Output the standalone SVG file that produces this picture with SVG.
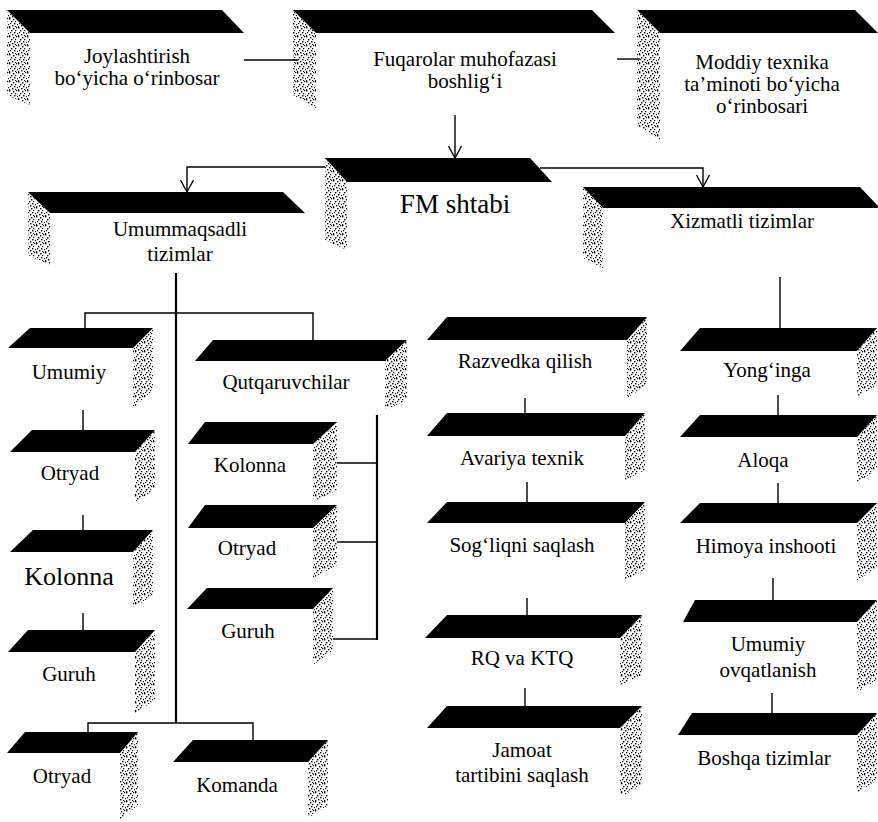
<svg xmlns="http://www.w3.org/2000/svg" width="878" height="822" viewBox="0 0 878 822">
<defs>
<pattern id="stip" width="9" height="9" patternUnits="userSpaceOnUse">
<rect x="0" y="0" width="1.4" height="1.4"/><rect x="4" y="1" width="1.4" height="1.4"/><rect x="7" y="0" width="1.2" height="1.2"/>
<rect x="2" y="3" width="1.4" height="1.4"/><rect x="6" y="3" width="1.2" height="1.2"/><rect x="1" y="5" width="1.2" height="1.2"/>
<rect x="5" y="5" width="1.4" height="1.4"/><rect x="8" y="6" width="1" height="1.2"/><rect x="3" y="7" width="1.4" height="1.4"/>
<rect x="6" y="8" width="1.2" height="1"/><rect x="0" y="8" width="1.2" height="1"/>
</pattern>
<marker id="arr" viewBox="0 0 12 14" refX="12" refY="7" markerWidth="12" markerHeight="14" markerUnits="userSpaceOnUse" orient="auto">
<path d="M0,0.5 L12,7 L0,13.5" fill="none" stroke="#000" stroke-width="1.3"/>
</marker>
</defs>
<style>
.top{fill:#000}
.side{fill:url(#stip)}
.t{font-family:"Liberation Serif","Times New Roman",serif;font-size:21px;fill:#000;text-anchor:middle}
.big{font-size:26px}
.ln{stroke:#000;stroke-width:1.4;fill:none}
.thk{stroke-width:2.2}
</style>
<rect width="878" height="822" fill="#fff"/>

<g id="connectors">
<line class="ln" x1="244" y1="60" x2="298" y2="60"/>
<line class="ln" x1="617" y1="59" x2="640" y2="59"/>
<line class="ln" x1="455" y1="115" x2="455" y2="158" marker-end="url(#arr)"/>
<path class="ln" d="M325,167 H187 V192" marker-end="url(#arr)"/>
<path class="ln" d="M540,168 H703 V187" marker-end="url(#arr)"/>
<line class="ln" x1="780" y1="277" x2="780" y2="328"/>
<line class="ln thk" x1="176" y1="273" x2="176" y2="723"/>
<path class="ln" d="M85,328 V313 H313 V340"/>
<line class="ln" x1="83" y1="410" x2="83" y2="430"/>
<line class="ln" x1="83" y1="515" x2="83" y2="530"/>
<line class="ln" x1="83" y1="613" x2="83" y2="630"/>
<path class="ln" d="M88,732 V723 H253 V740"/>
<line class="ln thk" x1="377" y1="415" x2="377" y2="640"/>
<line class="ln" x1="337" y1="463" x2="377" y2="463"/>
<line class="ln" x1="337" y1="542" x2="377" y2="542"/>
<line class="ln" x1="333" y1="639" x2="377" y2="639"/>
<line class="ln" x1="525" y1="398" x2="525" y2="413"/>
<line class="ln" x1="527" y1="482" x2="527" y2="502"/>
<line class="ln" x1="527" y1="598" x2="527" y2="615"/>
<line class="ln" x1="525" y1="688" x2="525" y2="706"/>
<line class="ln" x1="778" y1="395" x2="778" y2="415"/>
<line class="ln" x1="778" y1="483" x2="778" y2="503"/>
<line class="ln" x1="773" y1="578" x2="773" y2="600"/>
<line class="ln" x1="772" y1="693" x2="772" y2="713"/>
</g>

<g id="n-joylashtirish">
<polygon class="side" points="7,10 30,33 30,105 7,95"/>
<polygon class="top" points="7,10 222,10 244,33 30,33"/>
<text class="t" x="137" y="63">Joylashtirish</text>
<text class="t" x="137" y="85">bo‘yicha o‘rinbosar</text>
</g>
<g id="n-fuqarolar">
<polygon class="side" points="293,10 316,33 316,108 293,95"/>
<polygon class="top" points="293,10 592,10 615,33 316,33"/>
<text class="t" x="465" y="66">Fuqarolar muhofazasi</text>
<text class="t" x="465" y="88">boshlig‘i</text>
</g>
<g id="n-moddiy">
<polygon class="side" points="637,10 660,33 660,140 637,125"/>
<polygon class="top" points="637,10 855,10 878,33 660,33"/>
<text class="t" x="762" y="69">Moddiy texnika</text>
<text class="t" x="762" y="91">ta’minoti bo‘yicha</text>
<text class="t" x="762" y="113">o‘rinbosari</text>
</g>
<g id="n-fm">
<polygon class="side" points="325,158 347,182 347,250 325,240"/>
<polygon class="top" points="325,158 530,158 552,182 347,182"/>
<text class="t" style="font-size:27px" x="455" y="213">FM shtabi</text>
</g>
<g id="n-umummaqsadli">
<polygon class="side" points="28,192 50,213 50,265 28,255"/>
<polygon class="top" points="28,192 283,192 305,213 50,213"/>
<text class="t" x="180" y="236">Umummaqsadli</text>
<text class="t" x="180" y="261">tizimlar</text>
</g>
<g id="n-xizmatli">
<polygon class="side" points="583,187 603,208 603,268 583,258"/>
<polygon class="top" points="583,187 860,187 880,208 603,208"/>
<text class="t" x="742" y="228">Xizmatli tizimlar</text>
</g>

<g id="n-umumiy">
<polygon class="side" points="133,348 153,328 153,390 133,408"/>
<polygon class="top" points="30,328 153,328 133,348 8,348"/>
<text class="t" x="69" y="379">Umumiy</text>
</g>
<g id="n-otryad1">
<polygon class="side" points="135,452 155,430 155,490 135,502"/>
<polygon class="top" points="32,430 155,430 135,452 10,452"/>
<text class="t" x="70" y="480">Otryad</text>
</g>
<g id="n-kolonna1">
<polygon class="side" points="133,552 153,530 153,595 133,608"/>
<polygon class="top" points="33,530 153,530 133,552 10,552"/>
<text class="t big" x="69" y="585">Kolonna</text>
</g>
<g id="n-guruh1">
<polygon class="side" points="135,652 155,630 155,700 135,713"/>
<polygon class="top" points="28,630 155,630 135,652 8,652"/>
<text class="t" x="69" y="681">Guruh</text>
</g>
<g id="n-otryad2">
<polygon class="side" points="120,753 138,732 138,805 120,820"/>
<polygon class="top" points="25,732 138,732 120,753 7,753"/>
<text class="t" x="62" y="783">Otryad</text>
</g>
<g id="n-komanda">
<polygon class="side" points="308,762 328,740 328,805 308,818"/>
<polygon class="top" points="193,740 328,740 308,762 173,762"/>
<text class="t" x="237" y="792">Komanda</text>
</g>
<g id="n-qutqaruvchilar">
<polygon class="side" points="385,361 407,340 407,400 385,410"/>
<polygon class="top" points="213,340 407,340 385,361 195,361"/>
<text class="t" x="286" y="389">Qutqaruvchilar</text>
</g>
<g id="n-kolonna2">
<polygon class="side" points="313,444 337,422 337,490 313,502"/>
<polygon class="top" points="205,422 337,422 313,444 188,444"/>
<text class="t" x="250" y="472">Kolonna</text>
</g>
<g id="n-otryad3">
<polygon class="side" points="313,528 337,505 337,565 313,578"/>
<polygon class="top" points="205,505 337,505 313,528 188,528"/>
<text class="t" x="247" y="555">Otryad</text>
</g>
<g id="n-guruh2">
<polygon class="side" points="313,609 333,588 333,650 313,665"/>
<polygon class="top" points="207,588 333,588 313,609 187,609"/>
<text class="t" x="248" y="638">Guruh</text>
</g>

<g id="n-razvedka">
<polygon class="side" points="627,340 647,317 647,385 627,398"/>
<polygon class="top" points="447,317 647,317 627,340 427,340"/>
<text class="t" x="525" y="368">Razvedka qilish</text>
</g>
<g id="n-avariya">
<polygon class="side" points="625,436 645,413 645,470 625,480"/>
<polygon class="top" points="447,413 645,413 625,436 427,436"/>
<text class="t" x="522" y="465">Avariya texnik</text>
</g>
<g id="n-sogliqni">
<polygon class="side" points="625,523 645,502 645,570 625,580"/>
<polygon class="top" points="447,502 645,502 625,523 427,523"/>
<text class="t" x="522" y="552">Sog‘liqni saqlash</text>
</g>
<g id="n-rq">
<polygon class="side" points="620,638 642,615 642,675 620,685"/>
<polygon class="top" points="447,615 642,615 620,638 425,638"/>
<text class="t" x="522" y="665">RQ va KTQ</text>
</g>
<g id="n-jamoat">
<polygon class="side" points="620,728 642,706 642,785 620,797"/>
<polygon class="top" points="447,706 642,706 620,728 427,728"/>
<text class="t" x="522" y="757">Jamoat</text>
<text class="t" x="522" y="782">tartibini saqlash</text>
</g>

<g id="n-yonginga">
<polygon class="side" points="857,351 877,328 877,385 857,397"/>
<polygon class="top" points="700,328 877,328 857,351 680,351"/>
<text class="t" x="767" y="377">Yong‘inga</text>
</g>
<g id="n-aloqa">
<polygon class="side" points="857,437 877,415 877,470 857,482"/>
<polygon class="top" points="700,415 877,415 857,437 680,437"/>
<text class="t" x="763" y="467">Aloqa</text>
</g>
<g id="n-himoya">
<polygon class="side" points="857,523 877,503 877,568 857,580"/>
<polygon class="top" points="700,503 877,503 857,523 680,523"/>
<text class="t" x="766" y="553">Himoya inshooti</text>
</g>
<g id="n-ovqatlanish">
<polygon class="side" points="857,622 877,600 877,680 857,692"/>
<polygon class="top" points="695,600 877,600 857,622 683,622"/>
<text class="t" x="768" y="651">Umumiy</text>
<text class="t" x="768" y="677">ovqatlanish</text>
</g>
<g id="n-boshqa">
<polygon class="side" points="857,735 877,713 877,780 857,793"/>
<polygon class="top" points="692,713 877,713 857,735 678,735"/>
<text class="t" x="764" y="765">Boshqa tizimlar</text>
</g>
</svg>
